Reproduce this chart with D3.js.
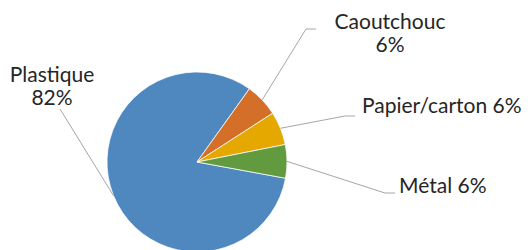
<!DOCTYPE html>
<html>
<head>
<meta charset="utf-8">
<script src="https://cdn.jsdelivr.net/npm/d3@7"></script>
<style>
  body { margin: 0; background: #fff; }
  svg text { font-family: Lato, "Open Sans", sans-serif; fill: #262626; }
</style>
</head>
<body>
<svg width="528" height="250"></svg>
<script>
"use strict";

const categories = ["Plastique", "Caoutchouc", "Papier/carton", "Métal"];
const values = [82, 6, 6, 6];
const colors = ["#4f88be", "#d46f2a", "#e5a800", "#619a3f"];

// label placement (text anchor point, elbow of the leader line, line lines)
const labelLayout = [
  { lines: ["Plastique", "82%"], x: 52, y: 82, anchor: "middle", elbow: [60, 109], end: [60, 109] },
  { lines: ["Caoutchouc", "6%"], x: 390, y: 29, anchor: "middle", elbow: [306, 29], end: [316, 29] },
  { lines: ["Papier/carton 6%"], x: 362, y: 113, anchor: "start", elbow: [345, 116], end: [355, 116] },
  { lines: ["Métal 6%"], x: 399, y: 193, anchor: "start", elbow: [385, 193], end: [395, 193] }
];

const svg = d3.select("svg");
const cx = 197;
const cy = 162;
const radius = 90;

const pie = d3
  .pie()
  .sort(null)
  .value(d => d)
  .startAngle((100.4 * Math.PI) / 180)
  .endAngle((100.4 * Math.PI) / 180 + 2 * Math.PI);

const arc = d3.arc().innerRadius(0).outerRadius(radius);
const edge = d3.arc().innerRadius(radius).outerRadius(radius);

const arcs = pie(values);

const g = svg.append("g").attr("transform", `translate(${cx},${cy})`);

g.selectAll("path.slice")
  .data(arcs)
  .enter()
  .append("path")
  .attr("class", "slice")
  .attr("d", arc)
  .attr("fill", (d, i) => colors[i])
  .attr("stroke", "#fff")
  .attr("stroke-width", 0.75);

// leader lines
svg
  .append("g")
  .selectAll("polyline")
  .data(arcs)
  .enter()
  .append("polyline")
  .attr("fill", "none")
  .attr("stroke", "#a6a6a6")
  .attr("stroke-width", 1)
  .attr("points", (d, i) => {
    const c = edge.centroid(d);
    const l = labelLayout[i];
    return [[cx + c[0], cy + c[1]], l.elbow, l.end].map(p => p.join(",")).join(" ");
  });

// labels
const labels = svg
  .append("g")
  .selectAll("text")
  .data(categories)
  .enter()
  .append("text")
  .attr("x", (d, i) => labelLayout[i].x)
  .attr("y", (d, i) => labelLayout[i].y)
  .attr("text-anchor", (d, i) => labelLayout[i].anchor)
  .style("font-size", "21px");

labels.each(function(d, i) {
  const l = labelLayout[i];
  d3.select(this)
    .selectAll("tspan")
    .data(l.lines)
    .enter()
    .append("tspan")
    .attr("x", l.x)
    .attr("dy", (t, j) => (j === 0 ? 0 : 23.3))
    .text(t => t);
});
</script>
</body>
</html>
